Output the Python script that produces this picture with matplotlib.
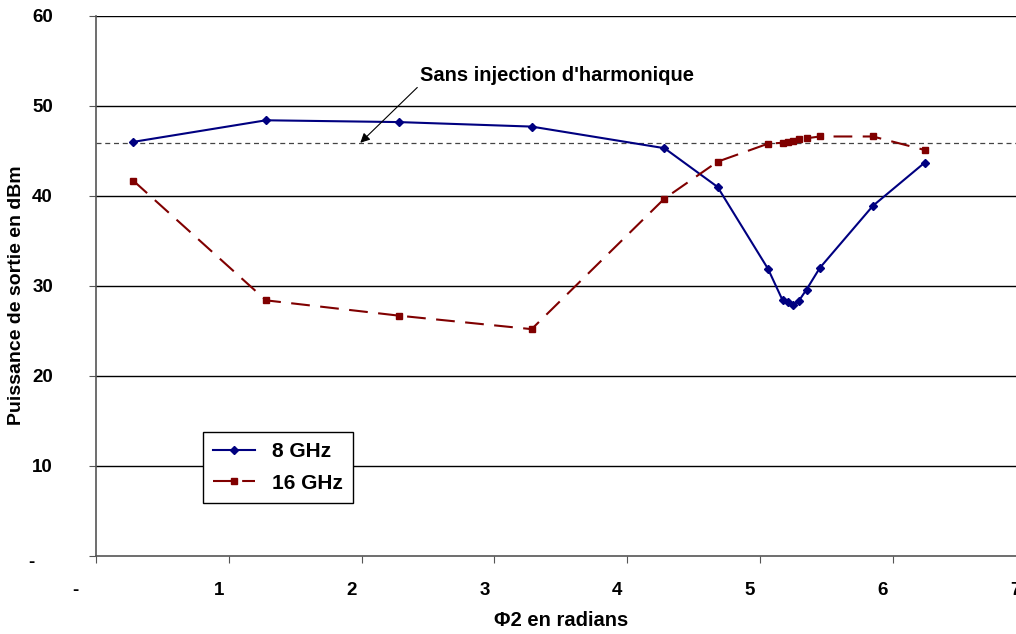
import matplotlib.pyplot as plt
from matplotlib.transforms import ScaledTranslation

plt.rcParams['font.family'] = ['Liberation Sans', 'DejaVu Sans']
plt.rcParams['font.weight'] = 'bold'

# phase en radians
phi = [0.28, 1.28, 2.28, 3.28, 4.28, 4.68, 5.06, 5.17, 5.21, 5.25, 5.29, 5.35, 5.45, 5.85, 6.24]
# puissance de sortie (dBm)
p_8ghz = [46.0, 48.4, 48.2, 47.7, 45.3, 41.0, 31.9, 28.4, 28.2, 27.9, 28.3, 29.6, 32.0, 38.9, 43.7]
p_16ghz = [41.7, 28.4, 26.7, 25.2, 39.7, 43.8, 45.8, 45.9, 46.0, 46.1, 46.3, 46.4, 46.6, 46.6, 45.1]
p_ref = 45.9

xticks = [0, 1, 2, 3, 4, 5, 6, 7]
xlabels = ["-", "1", "2", "3", "4", "5", "6", "7"]
yticks = [0, 10, 20, 30, 40, 50, 60]
ylabels = ["-", "10", "20", "30", "40", "50", "60"]

fig = plt.figure(figsize=(10.16, 6.34), dpi=100)
ax = fig.add_axes([0.0945, 0.123, 0.915, 0.852])

for y in yticks[1:]:
    ax.axhline(y, color="black", linewidth=1, zorder=1)
ax.axhline(p_ref, color="#444444", linewidth=0.9, linestyle=(0, (4, 3)), zorder=1)

ax.plot(phi, p_8ghz, color="#000080", marker="D", markersize=4, linewidth=1.5,
        label="8 GHz", zorder=3)
ax.plot(phi, p_16ghz, color="#800000", marker="s", markersize=4.5, linewidth=1.5,
        linestyle=(0, (9, 5)), label="16 GHz", zorder=3)

ax.annotate("Sans injection d'harmonique", xy=(1.99, 45.9), xytext=(2.44, 53.4),
            fontsize=14.5, fontweight="bold", va="center",
            arrowprops=dict(arrowstyle="-|>", color="black", lw=0.8, relpos=(0, 0),
                            shrinkA=0, shrinkB=0, mutation_scale=14),
            zorder=4)

ax.set_xlim(0, 7)
ax.set_ylim(0, 60)
ax.set_xticks(xticks)
ax.set_xticklabels(xlabels)
ax.set_yticks(yticks)
ax.set_yticklabels(ylabels)
ax.tick_params(direction="out", length=5, color="#555555", labelsize=13.5)
ax.tick_params(axis="x", pad=14)
ax.tick_params(axis="y", pad=26)

# décalage des étiquettes comme dans Excel
for i, lab in enumerate(ax.get_xticklabels()):
    dx = -21 if i == 0 else -10
    lab.set_transform(lab.get_transform() + ScaledTranslation(dx / 100, 0, fig.dpi_scale_trans))
for i, lab in enumerate(ax.get_yticklabels()):
    if i == 0:
        lab.set_transform(lab.get_transform() + ScaledTranslation(-18 / 100, -4 / 100, fig.dpi_scale_trans))

for s in ["top", "right"]:
    ax.spines[s].set_visible(False)
ax.spines["left"].set_color("#555555")
ax.spines["bottom"].set_color("#555555")
ax.spines["left"].set_linewidth(1.2)
ax.spines["bottom"].set_linewidth(1.2)

ax.set_xlabel("Φ2 en radians", fontsize=14.5, fontweight="bold", labelpad=8)
ax.set_ylabel("Puissance de sortie en dBm", fontsize=14, fontweight="bold", va="center")
ax.yaxis.set_label_coords(-0.085, 0.483)

leg = ax.legend(loc="upper left", bbox_to_anchor=(0.115, 0.23), fontsize=15,
                frameon=True, fancybox=False, edgecolor="black", framealpha=1,
                handlelength=2.0, borderpad=0.5, labelspacing=0.6, borderaxespad=0)
leg.get_frame().set_linewidth(1)
leg.set_zorder(5)

fig.savefig("out.png", dpi=100)
